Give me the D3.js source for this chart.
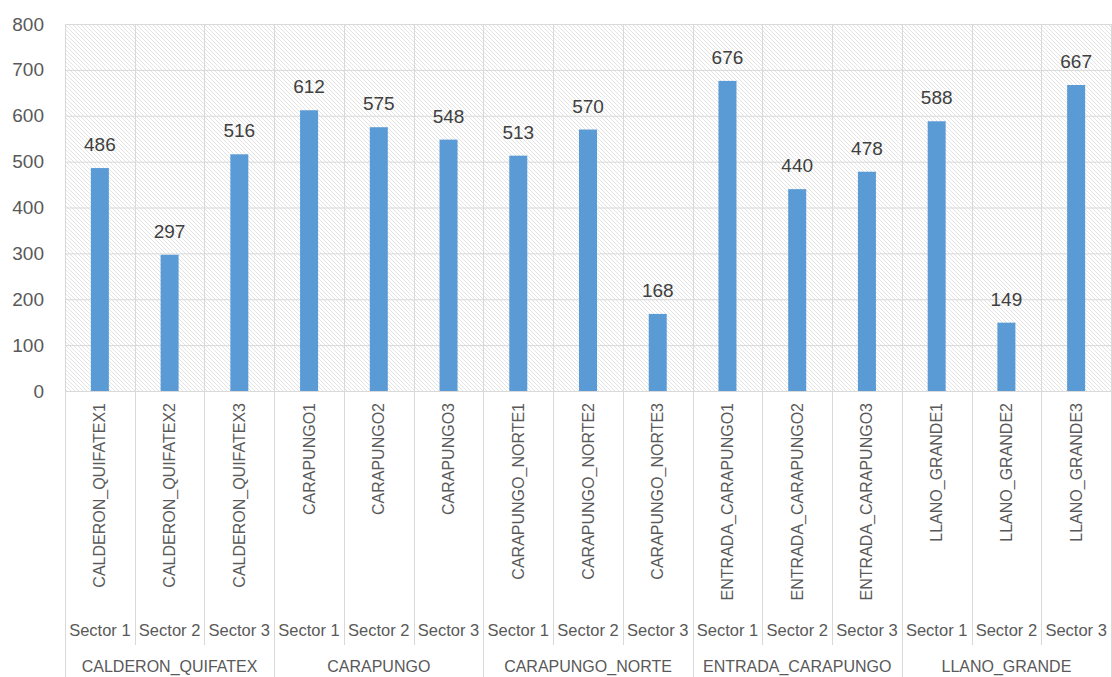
<!DOCTYPE html>
<html>
<head>
<meta charset="utf-8">
<script src="https://cdn.jsdelivr.net/npm/d3@7"></script>
<style>
  html, body { margin: 0; padding: 0; background: #fff; }
  svg { display: block; }
</style>
</head>
<body>
<div id="chart"></div>
<script>
// Sample counts per sector, grouped by site
const groups = ["CALDERON_QUIFATEX", "CARAPUNGO", "CARAPUNGO_NORTE", "ENTRADA_CARAPUNGO", "LLANO_GRANDE"];
const sectors = ["Sector 1", "Sector 2", "Sector 3"];
const categories = [
  "CALDERON_QUIFATEX1", "CALDERON_QUIFATEX2", "CALDERON_QUIFATEX3",
  "CARAPUNGO1", "CARAPUNGO2", "CARAPUNGO3",
  "CARAPUNGO_NORTE1", "CARAPUNGO_NORTE2", "CARAPUNGO_NORTE3",
  "ENTRADA_CARAPUNGO1", "ENTRADA_CARAPUNGO2", "ENTRADA_CARAPUNGO3",
  "LLANO_GRANDE1", "LLANO_GRANDE2", "LLANO_GRANDE3"
];
const values = [486, 297, 516, 612, 575, 548, 513, 570, 168, 676, 440, 478, 588, 149, 667];
const yTicks = [0, 100, 200, 300, 400, 500, 600, 700, 800];

const W = 1112, H = 677;
const plot = { left: 65, right: 1111, top: 24, bottom: 391 };

const svg = d3.select("#chart").append("svg")
  .attr("width", W).attr("height", H)
  .style("font-family", "'Liberation Sans', Arial, sans-serif");

// Diagonal hatch used as the plot-area fill
const defs = svg.append("defs");
const pat = defs.append("pattern")
  .attr("id", "hatch")
  .attr("patternUnits", "userSpaceOnUse")
  .attr("width", 4).attr("height", 4);
pat.append("path")
  .attr("d", "M-1,-1 L5,5 M3,-1 L5,1 M-1,3 L1,5")
  .attr("stroke", "#e0e0e0")
  .attr("stroke-width", 0.9);

const x = d3.scaleBand()
  .domain(categories)
  .range([plot.left, plot.right])
  .paddingInner(0).paddingOuter(0);

const y = d3.scaleLinear()
  .domain([0, 800])
  .range([plot.bottom, plot.top]);

const gridColor = "#d9d9d9";

// Plot area background
svg.append("rect")
  .attr("x", plot.left).attr("y", plot.top)
  .attr("width", plot.right - plot.left)
  .attr("height", plot.bottom - plot.top)
  .attr("fill", "url(#hatch)");

// Horizontal gridlines and value axis labels
const yAxis = svg.append("g")
  .attr("transform", `translate(${plot.left},0)`)
  .call(d3.axisLeft(y).tickValues(yTicks).tickSize(-(plot.right - plot.left)).tickPadding(21));
yAxis.select(".domain").remove();
yAxis.selectAll(".tick line").attr("stroke", gridColor).attr("stroke-width", 1);
yAxis.selectAll(".tick text")
  .attr("fill", "#595959")
  .style("font-size", "19px")
  .style("font-family", "'Liberation Sans', Arial, sans-serif");

// Vertical gridlines at category boundaries (plot area + category label area)
const bounds = categories.map(c => x(c)).concat([plot.right]);
svg.append("g").selectAll("line")
  .data(bounds)
  .join("line")
  .attr("x1", d => Math.round(d) + 0.5).attr("x2", d => Math.round(d) + 0.5)
  .attr("y1", plot.top)
  .attr("y2", (d, i) => (i % 3 === 0) ? H : 645)
  .attr("stroke", gridColor)
  .attr("stroke-width", 1);

// Bars
const barW = 18;
svg.append("g").selectAll("rect")
  .data(values)
  .join("rect")
  .attr("x", (d, i) => x(categories[i]) + x.bandwidth() / 2 - barW / 2)
  .attr("y", d => y(d))
  .attr("width", barW)
  .attr("height", d => y(0) - y(d))
  .attr("fill", "#5b9bd5");

// Value labels
svg.append("g").selectAll("text")
  .data(values)
  .join("text")
  .attr("x", (d, i) => x(categories[i]) + x.bandwidth() / 2)
  .attr("y", d => y(d) - 17)
  .attr("text-anchor", "middle")
  .attr("fill", "#404040")
  .style("font-size", "19px")
  .text(d => d);

// Rotated category labels
svg.append("g").selectAll("text")
  .data(categories)
  .join("text")
  .attr("transform", d => `translate(${x(d) + x.bandwidth() / 2 + 5.5},403) rotate(-90)`)
  .attr("text-anchor", "end")
  .attr("fill", "#595959")
  .style("font-size", "16px")
  .text(d => d);

// Sector labels
svg.append("g").selectAll("text")
  .data(categories)
  .join("text")
  .attr("x", d => x(d) + x.bandwidth() / 2)
  .attr("y", 636)
  .attr("text-anchor", "middle")
  .attr("fill", "#595959")
  .style("font-size", "16.5px")
  .text((d, i) => sectors[i % 3]);

// Group labels
svg.append("g").selectAll("text")
  .data(groups)
  .join("text")
  .attr("x", (g, i) => (x(categories[i * 3]) + x(categories[i * 3 + 2]) + x.bandwidth()) / 2)
  .attr("y", 672)
  .attr("text-anchor", "middle")
  .attr("fill", "#595959")
  .style("font-size", "16px")
  .text(d => d);
</script>
</body>
</html>
